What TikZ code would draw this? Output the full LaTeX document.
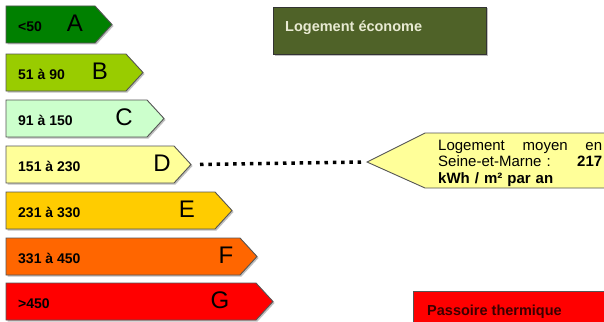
\documentclass[tikz,border=0pt]{standalone}
\usepackage{fontspec}
\setmainfont{Liberation Sans}
\definecolor{cA}{HTML}{008000}
\definecolor{cB}{HTML}{99CC00}
\definecolor{cC}{HTML}{CCFFCC}
\definecolor{cD}{HTML}{FFFF99}
\definecolor{cE}{HTML}{FFCC00}
\definecolor{cF}{HTML}{FF6600}
\definecolor{cG}{HTML}{FF0000}
\definecolor{olive}{HTML}{4F6228}
\definecolor{cream}{HTML}{E8EAD2}
\definecolor{edge}{HTML}{555555}
\definecolor{darkred}{HTML}{3A0000}
\tikzset{
  classbox/.style={draw=edge, line width=0.9pt},
  shadowbox/.style={fill=black!25, draw=none},
  rangelbl/.style={anchor=base west, inner sep=0pt, font=\fontsize{14}{16}\selectfont\bfseries},
  letterlbl/.style={anchor=base, inner sep=0pt, font=\fontsize{24}{26}\selectfont},
  dotline/.style={line width=3.5pt, dash pattern=on 3.5pt off 4.8pt},
}
\newcommand{\classarrow}[6]{% name, top, tip x, color, range, letter, letter x
  \path[shadowbox] (7.5,#2+1.5) -- (#3-17+1.5,#2+1.5) -- (#3+1.5,#2+18.5+1.5) -- (#3-17+1.5,#2+37+1.5) -- (7.5,#2+38.5) -- cycle;
  \path[classbox, fill=#4] (6,#2) -- (#3-17,#2) -- (#3,#2+18.5) -- (#3-17,#2+37) -- (6,#2+37) -- cycle;
  \coordinate (#1tip) at (#3,#2+18.5);
  \node[rangelbl] (#1range) at (18,#2+25.5) {#5};
}
\begin{document}
\begin{tikzpicture}[x=1pt,y=-1pt]
\useasboundingbox (0,0) rectangle (604,321);
\fill[white] (0,0) rectangle (604,321);

\classarrow{A}{6}{112}{cA}{<50}{}
\node[letterlbl] (Aletter) at (75,31.5) {A};
\classarrow{B}{54}{143}{cB}{51 à 90}{}
\node[letterlbl] (Bletter) at (100,79.5) {B};
\classarrow{C}{100}{164}{cC}{91 à 150}{}
\node[letterlbl] (Cletter) at (124,125.5) {C};
\classarrow{D}{146}{191}{cD}{151 à 230}{}
\node[letterlbl] (Dletter) at (162,171.5) {D};
\classarrow{E}{192}{232}{cE}{231 à 330}{}
\node[letterlbl] (Eletter) at (187,217.5) {E};
\classarrow{F}{238}{257}{cF}{331 à 450}{}
\node[letterlbl] (Fletter) at (226,263.5) {F};
\classarrow{G}{283}{273}{cG}{>450}{}
\node[letterlbl] (Gletter) at (220,308.5) {G};

% Logement econome
\path[shadowbox] (274.5,8.5) rectangle (487.5,55.5);
\path[draw=black!80, line width=0.9pt, fill=olive] (273,7) rectangle (486,54);
\node[anchor=base west, inner sep=0pt, text=cream, font=\fontsize{14.5}{16}\selectfont\bfseries] (econome) at (285,32) {Logement économe};

% Callout
\path[draw=edge, line width=0.9pt, fill=cD] (367,162) -- (425,133) -- (612,133) -- (612,188) -- (425,188) -- cycle;
\coordinate (ctip) at (367,162);
\node[anchor=base west, inner sep=0pt, text width=164pt, align=left,
      font=\fontsize{15}{16.5}\selectfont] (moyen) at (438,150)
  {Logement\hfill moyen\hfill en\\Seine-et-Marne :\hfill\textbf{217}\\\textbf{kWh / m² par an}};

% dotted connector
\draw[dotline] ([xshift=9pt]Dtip) -- ([xshift=-6pt]ctip);

% Passoire thermique
\path[draw=edge, line width=0.9pt, fill=cG] (413,291) rectangle (612,330);
\node[anchor=base west, inner sep=0pt, text=darkred, font=\fontsize{14.5}{16}\selectfont\bfseries] (passoire) at (427,315) {Passoire thermique};
\end{tikzpicture}
\end{document}
